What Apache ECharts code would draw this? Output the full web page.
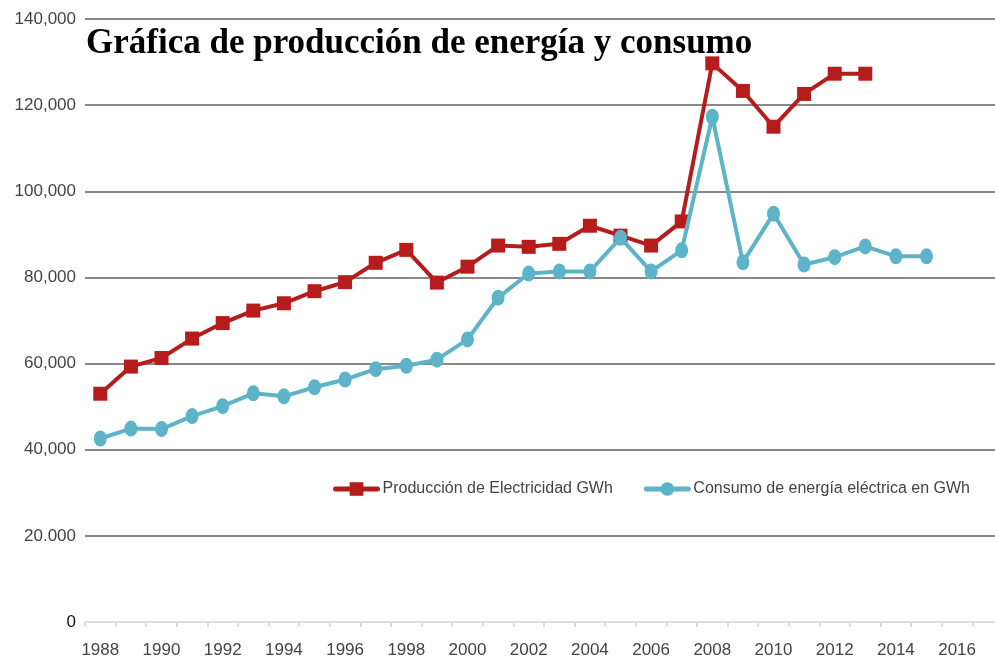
<!DOCTYPE html>
<html>
<head>
<meta charset="utf-8">
<script src="https://cdn.jsdelivr.net/npm/echarts@6/dist/echarts.min.js"></script>
<style>
html,body{margin:0;padding:0;background:#fff;}
#chart{width:995px;height:660px;}
</style>
</head>
<body>
<div id="chart"></div>
<script>
const titleText = 'Gráfica de producción de energía y consumo';
const years = ['1988','1989','1990','1991','1992','1993','1994','1995','1996','1997','1998','1999','2000','2001','2002','2003','2004','2005','2006','2007','2008','2009','2010','2011','2012','2013','2014','2015','2016','2017'];
const seriesNames = ['Producción de Electricidad GWh', 'Consumo de energía eléctrica en GWh'];
const produccion = [53000, 59300, 61300, 65800, 69400, 72300, 74000, 76800, 78900, 83400, 86400, 78800, 82500, 87400, 87100, 87800, 92000, 89700, 87400, 93000, 129700, 123300, 115000, 122600, 127300, 127300, null, null, null, null];
const consumo = [42600, 44900, 44800, 47800, 50100, 53100, 52400, 54500, 56300, 58700, 59500, 60900, 65600, 75300, 80900, 81400, 81400, 89200, 81400, 86300, 117300, 83500, 94800, 83000, 84700, 87200, 84900, 84900, null, null];
const yTicks = {0: '0', 20000: '20.000', 40000: '40,000', 60000: '60,000', 80000: '80,000', 100000: '100,000', 120000: '120,000', 140000: '140,000'};

const chart = echarts.init(document.getElementById('chart'), null, {renderer: 'canvas'});
chart.setOption({
  animation: false,
  backgroundColor: '#fff',
  title: {
    text: titleText,
    left: 81,
    top: 21,
    textStyle: {fontFamily: 'Liberation Serif', fontWeight: 'bold', fontSize: 35, color: '#000'}
  },
  legend: {
    left: 333,
    top: 481,
    padding: 0,
    itemWidth: 42,
    itemHeight: 17,
    itemGap: 31,
    lineStyle: {width: 5, cap: 'round'},
    textStyle: {fontFamily: 'Liberation Sans', fontSize: 16, color: '#444'},
    data: seriesNames
  },
  grid: {left: 85, right: -8, top: 19, bottom: 38, containLabel: false, outerBoundsMode: 'none'},
  xAxis: {
    type: 'category',
    data: years,
    boundaryGap: true,
    axisLine: {show: true, lineStyle: {color: '#ddd', width: 2}},
    axisTick: {show: true, interval: 0, length: 5, lineStyle: {color: '#ddd', width: 2}},
    axisLabel: {interval: 1, margin: 20, fontFamily: 'Liberation Sans', fontSize: 17, color: '#444'},
    splitLine: {show: false}
  },
  yAxis: {
    type: 'value',
    min: 0,
    max: 140000,
    interval: 20000,
    axisLine: {show: false},
    axisTick: {show: false},
    axisLabel: {
      margin: 9,
      fontFamily: 'Liberation Sans',
      fontSize: 17,
      color: '#444',
      formatter: function (v) { return v === 0 ? '{z|0}' : (yTicks[v] || ''); },
      rich: {z: {color: '#111', fontFamily: 'Liberation Sans', fontSize: 17}}
    },
    splitLine: {show: true, lineStyle: {color: ['#ddd', '#888', '#888', '#888', '#888', '#888', '#888', '#888'], width: 2}}
  },
  series: [
    {
      name: seriesNames[0],
      type: 'line',
      data: produccion,
      symbol: 'rect',
      symbolSize: 14,
      showAllSymbol: true,
      itemStyle: {color: '#b71c1c'},
      lineStyle: {color: '#b71c1c', width: 4},
      z: 3
    },
    {
      name: seriesNames[1],
      type: 'line',
      data: consumo,
      symbol: 'circle',
      symbolSize: [13, 16],
      showAllSymbol: true,
      itemStyle: {color: '#5db3c8'},
      lineStyle: {color: '#5db3c8', width: 4},
      z: 4
    }
  ]
});
</script>
</body>
</html>
